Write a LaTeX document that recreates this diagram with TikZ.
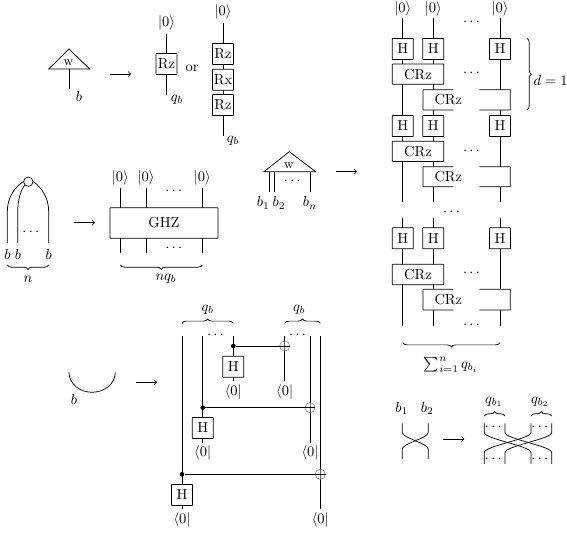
\documentclass[tikz,border=0pt]{standalone}
\usepackage{amsmath}
\usepackage{tikz}
\usetikzlibrary{
    backgrounds,
    decorations.pathreplacing
}
\tikzset{
    % gate boxes
    gate/.style={
        rectangle,
        rounded corners=0.3pt,
        draw,
        fill=white,
        minimum size=14.5pt,
        inner sep=0pt
    },
    crz/.style={
        gate,
        minimum width=35.5pt,
        minimum height=14pt
    },
    % plain text labels
    lab/.style={
        inner sep=2pt
    },
    dotsnode/.style={
        inner sep=0pt
    },
    % arrows between diagrams
    arrow/.style={
        ->
    },
    curlyb/.style={
        decorate,
        decoration={brace, mirror, amplitude=3pt}
    },
    curlyr/.style={
        decorate,
        decoration={brace, amplitude=3pt}
    },
    ctrl/.style={
        circle,
        fill=black,
        inner sep=0pt,
        minimum size=3.2pt
    },
    oplus/.style={
        circle,
        draw=black!60,
        line width=0.3pt,
        inner sep=0pt,
        minimum size=7pt,
        path picture={
            \draw[black!60, line width=0.3pt]
                (path picture bounding box.north) -- (path picture bounding box.south)
                (path picture bounding box.west) -- (path picture bounding box.east);
        }
    }
}

\begin{document}
\begin{tikzpicture}[x=0.69pt, y=-0.69pt, line width=0.5pt]

    \useasboundingbox (0,0) rectangle (567,534);

    % [1] triangle with a single leg
    \coordinate (triL) at (48.7,69);
    \coordinate (triT) at (69,49);
    \coordinate (triR) at (89.7,69);
    \coordinate (triB) at (69,69);
    \coordinate (triE) at (69,89);
    \draw (triL) -- (triT) -- (triR) -- cycle;
    \draw (triB) -- (triE);
    \node[lab] (triW) at (68.5,63) {\small w};
    \node[lab] (triLab) at (79,96) {$b$};

    \coordinate (arA1) at (110,74);
    \coordinate (arA2) at (131,74);
    \draw[arrow] (arA1) -- (arA2);

    % single rotation
    \node[lab] (ketRz) at (166.5,23) {$|0\rangle$};
    \node[gate] (rzOne) at (166.5,64) {Rz};
    \coordinate (rzEnd) at (166.5,95);
    \node[lab] (qRz) at (177,100) {$q_b$};
    \node[lab] (orLab) at (192,68) {or};

    % three rotations
    \node[lab] (ketRzx) at (223,12) {$|0\rangle$};
    \node[gate] (rzTop) at (223,54) {Rz};
    \node[gate] (rxMid) at (223,79.7) {Rx};
    \node[gate] (rzBot) at (223,105) {Rz};
    \coordinate (rzxEnd) at (223,136);
    \node[lab] (qRzx) at (233,141) {$q_b$};

    \begin{scope}[on background layer]
        \draw (ketRz.south) -- (rzEnd);
        \draw (ketRzx.south) -- (rzxEnd);
    \end{scope}

    % [2] spider and GHZ
    \node[circle, draw, inner sep=0pt, minimum size=6.5pt] (spider) at (28.3,181.7) {};
    \coordinate (legA) at (7.3,243);
    \coordinate (legB) at (17.7,243);
    \coordinate (legC) at (48.7,243);
    \draw (legA) -- (7.3,212) .. controls (7.3,197) and (15,187) .. (spider.west);
    \draw (legB) -- (17.7,212) .. controls (17.7,199) and (21,190) .. (spider.south west);
    \draw (legC) -- (48.7,212) .. controls (48.7,197) and (41,187) .. (spider.east);
    \node[dotsnode] (spDots) at (32,232.7) {$\cdots$};
    \node[lab] (spB1) at (7.5,254.5) {$b$};
    \node[lab] (spB2) at (18,254.5) {$b$};
    \node[lab] (spB3) at (48.7,254.5) {$b$};
    \coordinate (brNa) at (7.3,265);
    \coordinate (brNb) at (48.7,265);
    \draw[curlyb] (brNa) -- (brNb);
    \node[lab] (nLab) at (28,279) {$n$};

    \coordinate (arB1) at (74,222.7);
    \coordinate (arB2) at (95,222.7);
    \draw[arrow] (arB1) -- (arB2);

    \node[gate, minimum width=74.5pt, minimum height=21pt] (ghz) at (164,223) {GHZ\hspace{3pt}};
    \node[lab] (ketG1) at (120.3,177.7) {$|0\rangle$};
    \node[lab] (ketG2) at (146,177.7) {$|0\rangle$};
    \node[lab] (ketG3) at (202.3,177.7) {$|0\rangle$};
    \coordinate (ghzE1) at (120.3,253.3);
    \coordinate (ghzE2) at (146,253.3);
    \coordinate (ghzE3) at (202.3,253.3);
    \node[dotsnode] (ghzDotsT) at (175,191.7) {$\cdots$};
    \node[dotsnode] (ghzDotsB) at (175,248) {$\cdots$};
    \begin{scope}[on background layer]
        \draw (ketG1.south) -- (ghzE1);
        \draw (ketG2.south) -- (ghzE2);
        \draw (ketG3.south) -- (ghzE3);
    \end{scope}
    \coordinate (brGa) at (120.3,265);
    \coordinate (brGb) at (202.3,265);
    \draw[curlyb] (brGa) -- (brGb);
    \node[lab] (nqLab) at (166,279) {$nq_b$};

    % [3] roof with n legs
    \coordinate (roofL) at (264,171.7);
    \coordinate (roofT) at (289.3,151.7);
    \coordinate (roofR) at (315.7,171.7);
    \draw (roofL) -- (roofT) -- (roofR) -- cycle;
    \node[lab] (roofW) at (289,166) {\small w};
    \node[dotsnode] (roofDots) at (293.5,181.7) {$\cdots$};
    \draw (269,171.7) coordinate (roofA) -- (269,191.7) coordinate (roofAe);
    \draw (274.3,171.7) coordinate (roofB) -- (274.3,191.7) coordinate (roofBe);
    \draw (310,171.7) coordinate (roofC) -- (310,191.7) coordinate (roofCe);
    \node[lab] (roofB1) at (263.3,203) {$b_1$};
    \node[lab] (roofB2) at (279,203) {$b_2$};
    \node[lab] (roofBn) at (310,203) {$b_n$};

    \coordinate (arC1) at (336,171.7);
    \coordinate (arC2) at (357,171.7);
    \draw[arrow] (arC1) -- (arC2);

    % the layered circuit
    \node[lab, inner sep=1.3pt] (ketC1) at (402.7,9) {$|0\rangle$};
    \node[lab, inner sep=1.3pt] (ketC2) at (433.3,9) {$|0\rangle$};
    \node[lab, inner sep=1.3pt] (ketC3) at (500,9) {$|0\rangle$};
    \node[dotsnode] (cDotsTop) at (472.7,22.7) {$\cdots$};

    % first layer
    \node[gate] (hA1) at (402.7,49) {H};
    \node[gate] (hA2) at (433.3,49) {H};
    \node[gate] (hA3) at (500,49) {H};
    \node[crz] (crA1) at (418,74.2) {CRz};
    \node[dotsnode] (dotsA) at (472.7,73.7) {$\cdots$};
    \fill[white] (423,89.7) rectangle (510.3,110);
    \draw[rounded corners=0.3pt] (453.3,89.7) -- (423,89.7) -- (423,110) -- (453.3,110);
    \draw[rounded corners=0.3pt] (479.3,89.7) -- (510.3,89.7) -- (510.3,110) -- (479.3,110);
    \node[lab] (crA2) at (448.3,100) {CRz};

    % second layer
    \node[gate] (hB1) at (402.7,126) {H};
    \node[gate] (hB2) at (433.3,126) {H};
    \node[gate] (hB3) at (500,126) {H};
    \node[crz] (crB1) at (418,151.3) {CRz};
    \node[dotsnode] (dotsB) at (472.7,151) {$\cdots$};
    \fill[white] (423,166.7) rectangle (510.3,186.7);
    \draw[rounded corners=0.3pt] (453.3,166.7) -- (423,166.7) -- (423,186.7) -- (453.3,186.7);
    \draw[rounded corners=0.3pt] (479.3,166.7) -- (510.3,166.7) -- (510.3,186.7) -- (479.3,186.7);
    \node[lab] (crB2) at (448.3,177) {CRz};
    \node[dotsnode] (dotsMid) at (452.7,212.7) {$\cdots$};

    % last layer
    \node[gate] (hC1) at (402.7,238.3) {H};
    \node[gate] (hC2) at (433.3,238.3) {H};
    \node[gate] (hC3) at (500,238.3) {H};
    \node[crz] (crC1) at (418,274.5) {CRz};
    \node[dotsnode] (dotsC) at (472.7,273.7) {$\cdots$};
    \fill[white] (423,289.3) rectangle (510.3,310);
    \draw[rounded corners=0.3pt] (453.3,289.3) -- (423,289.3) -- (423,310) -- (453.3,310);
    \draw[rounded corners=0.3pt] (479.3,289.3) -- (510.3,289.3) -- (510.3,310) -- (479.3,310);
    \node[lab] (crC2) at (448.3,300) {CRz};
    \node[dotsnode] (dotsEnd) at (472.7,325) {$\cdots$};

    % wires behind the gates
    \coordinate (wA1) at (402.7,202.3);
    \coordinate (wA2) at (433.3,202.3);
    \coordinate (wA3) at (500,202.3);
    \coordinate (wB1) at (402.7,217.7);
    \coordinate (wB2) at (433.3,217.7);
    \coordinate (wB3) at (500,217.7);
    \coordinate (wC1) at (402.7,325.7);
    \coordinate (wC2) at (433.3,325.7);
    \coordinate (wC3) at (500,325.7);
    \begin{scope}[on background layer]
        \draw (ketC1.south) -- (wA1);
        \draw (ketC2.south) -- (wA2);
        \draw (ketC3.south) -- (wA3);
        \draw (wB1) -- (wC1);
        \draw (wB2) -- (wC2);
        \draw (wB3) -- (wC3);
    \end{scope}

    \coordinate (brDa) at (527,38.3);
    \coordinate (brDb) at (527,110);
    \draw[curlyr] (brDa) -- (brDb);
    \node[lab] (dLab) at (550.7,80) {$d=1$};
    \coordinate (brSa) at (402.7,342.7);
    \coordinate (brSb) at (500,342.7);
    \draw[curlyb] (brSa) -- (brSb);
    \node[lab] (sumLab) at (451,365) {$\sum_{i=1}^n q_{b_i}$};

    % [4] cup and its measurement circuit
    \coordinate (cupL) at (69,372.3);
    \coordinate (cupB) at (92,392.3);
    \coordinate (cupR) at (115.3,372.3);
    \draw (cupL) .. controls (69,384) and (80,392.3) .. (cupB)
        .. controls (104,392.3) and (115.3,384) .. (cupR);
    \node[lab] (cupLab) at (74,399) {$b$};

    \coordinate (arD1) at (136,382.3);
    \coordinate (arD2) at (157,382.3);
    \draw[arrow] (arD1) -- (arD2);

    \coordinate (mTop1) at (182,336.3);
    \coordinate (mTop2) at (202.7,336.3);
    \coordinate (mTop3) at (233.3,336.3);
    \coordinate (mTop4) at (284.7,336.3);
    \coordinate (mTop5) at (310,336.3);
    \coordinate (mTop6) at (320.3,336.3);
    \node[dotsnode] (mDotsA) at (216.7,335.7) {$\cdots$};
    \node[dotsnode] (mDotsB) at (298.7,335.7) {$\cdots$};

    \node[ctrl] (ctrlA) at (233.3,346) {};
    \node[oplus] (xorA) at (284.7,346) {};
    \node[gate] (hMa) at (233.3,366.7) {H};
    \node[lab] (braA) at (233.3,391.7) {$\langle 0|$};
    \node[lab] (braB) at (284.7,391.7) {$\langle 0|$};

    \node[ctrl] (ctrlB) at (202.7,407.7) {};
    \node[oplus] (xorB) at (310,407.7) {};
    \node[gate] (hMb) at (202.7,428) {H};
    \node[lab] (braC) at (202.7,453.3) {$\langle 0|$};
    \node[lab] (braD) at (310,453.3) {$\langle 0|$};

    \node[ctrl] (ctrlC) at (182,474.3) {};
    \node[oplus] (xorC) at (320.3,474.3) {};
    \node[gate] (hMc) at (182,495) {H};
    \node[lab] (braE) at (182,520) {$\langle 0|$};
    \node[lab] (braF) at (320.3,520) {$\langle 0|$};

    \begin{scope}[on background layer]
        \draw (mTop3) -- (braA.north);
        \draw (mTop4) -- (braB.north);
        \draw (mTop2) -- (braC.north);
        \draw (mTop5) -- (braD.north);
        \draw (mTop1) -- (braE.north);
        \draw (mTop6) -- (braF.north);
    \end{scope}
    \draw (ctrlA) -- (xorA.east);
    \draw (ctrlB) -- (xorB.east);
    \draw (ctrlC) -- (xorC.east);

    \coordinate (brMa) at (182,323.3);
    \coordinate (brMb) at (233.3,323.3);
    \coordinate (brMc) at (284.7,323.3);
    \coordinate (brMd) at (320.3,323.3);
    \draw[curlyr] (brMa) -- (brMb);
    \draw[curlyr] (brMc) -- (brMd);
    \node[lab] (qMa) at (207.7,310) {$q_b$};
    \node[lab] (qMb) at (299.3,310) {$q_b$};

    % [5] swap
    \node[lab] (swB1) at (401.7,408.3) {$b_1$};
    \node[lab] (swB2) at (427.3,408.3) {$b_2$};
    \coordinate (swA) at (402.3,423.3);
    \coordinate (swB) at (428.3,423.3);
    \coordinate (swC) at (402.3,459);
    \coordinate (swD) at (428.3,459);
    \draw (swA) -- (402.3,432.5) .. controls (402.3,438) and (428.3,443.5) .. (428.3,449) -- (swD);
    \draw (swB) -- (428.3,432.5) .. controls (428.3,438) and (402.3,443.5) .. (402.3,449) -- (swC);

    \coordinate (arE1) at (443.3,439);
    \coordinate (arE2) at (464.3,439);
    \draw[arrow] (arE1) -- (arE2);

    \node[lab] (qS1) at (494,401.7) {$q_{b_1}$};
    \node[lab] (qS2) at (540,401.7) {$q_{b_2}$};
    \coordinate (brSwa) at (484.3,416);
    \coordinate (brSwb) at (505,416);
    \coordinate (brSwc) at (531,416);
    \coordinate (brSwd) at (551.7,416);
    \draw[curlyr] (brSwa) -- (brSwb);
    \draw[curlyr] (brSwc) -- (brSwd);
    \node[dotsnode] (swDots1) at (494.5,427.7) {$\cdots$};
    \node[dotsnode] (swDots2) at (541,427.7) {$\cdots$};
    \node[dotsnode] (swDots3) at (494.5,459.3) {$\cdots$};
    \node[dotsnode] (swDots4) at (541,459.3) {$\cdots$};

    \coordinate (sqA) at (484.3,423.3);
    \coordinate (sqB) at (505,423.3);
    \coordinate (sqC) at (531,423.3);
    \coordinate (sqD) at (551.7,423.3);
    \coordinate (seA) at (484.3,464);
    \coordinate (seB) at (505,464);
    \coordinate (seC) at (531,464);
    \coordinate (seD) at (551.7,464);
    \draw (sqA) -- (484.3,432.5) .. controls (484.3,439) and (531,446) .. (531,452.5) -- (seC);
    \draw (sqB) -- (505,432.5) .. controls (505,439) and (551.7,446) .. (551.7,452.5) -- (seD);
    \draw (sqC) -- (531,432.5) .. controls (531,439) and (484.3,446) .. (484.3,452.5) -- (seA);
    \draw (sqD) -- (551.7,432.5) .. controls (551.7,439) and (505,446) .. (505,452.5) -- (seB);

\end{tikzpicture}
\end{document}
